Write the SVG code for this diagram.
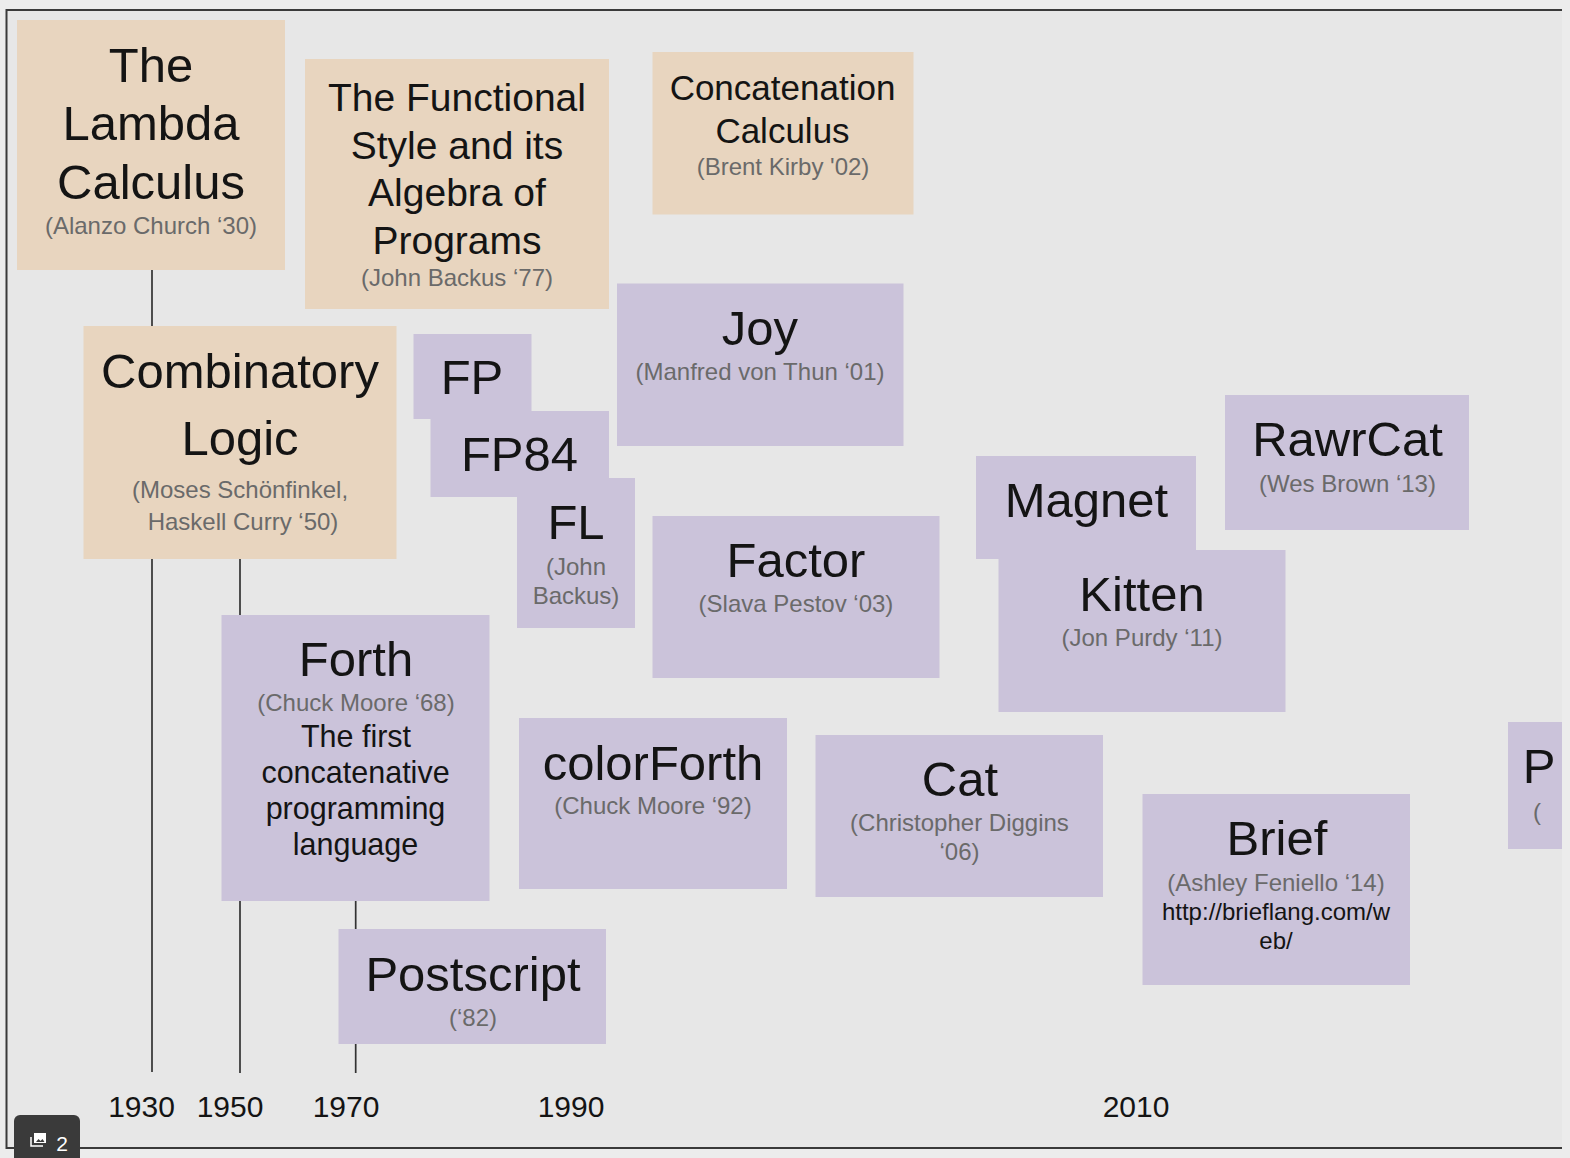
<svg xmlns="http://www.w3.org/2000/svg" width="1570" height="1158" viewBox="0 0 1570 1158">
<style>
text{font-family:"Liberation Sans",Arial,sans-serif;text-anchor:middle;fill:#141414}
.o{fill:#e8d5bf}.p{fill:#cbc3da}
.s{fill:#6a6a6a}
.c{stroke:#333;stroke-width:1.700;fill:none}
.y{font-size:30px}
</style>
<rect width="1570" height="1158" fill="#ececec"/>
<rect x="6.500" y="10" width="1555.500" height="1138" fill="#e7e7e7"/>
<path d="M1562 10H6.500V1148H1562" fill="none" stroke="#3a3a3a" stroke-width="2"/>
<g id="connectors">
<path class="c" d="M152 269V326M152 558V1072M240 558V615M240 900V1073M355.700 900V929M355.700 1043V1073"/>
</g>
<g id="lambda"><rect class="o" x="17" y="20" width="268" height="250"/><text x="151" y="81.500" font-size="49">The</text><text x="151" y="140" font-size="49">Lambda</text><text x="151" y="199" font-size="49">Calculus</text><text class="s" x="151" y="234" font-size="24">(Alanzo Church ‘30)</text></g>
<g id="functional"><rect class="o" x="305" y="59" width="304" height="250"/><text x="457" y="111" font-size="39">The Functional</text><text x="457" y="158.500" font-size="39">Style and its</text><text x="457" y="206" font-size="39">Algebra of</text><text x="457" y="253.500" font-size="39">Programs</text><text class="s" x="457" y="286" font-size="24">(John Backus ‘77)</text></g>
<g id="concatenation"><rect class="o" x="652.500" y="52" width="261" height="162.500"/><text x="782.500" y="100" font-size="35">Concatenation</text><text x="782.500" y="143" font-size="35">Calculus</text><text class="s" x="783" y="174.500" font-size="24">(Brent Kirby '02)</text></g>
<g id="combinatory"><rect class="o" x="83.500" y="326" width="313" height="233"/><text x="240" y="388" font-size="49">Combinatory</text><text x="240" y="454.500" font-size="49">Logic</text><text class="s" x="240" y="498" font-size="24">(Moses Schönfinkel,</text><text class="s" x="243" y="530" font-size="24">Haskell Curry ‘50)</text></g>
<g id="fp"><rect class="p" x="413.500" y="334" width="118" height="85"/><text x="472" y="394" font-size="49">FP</text></g>
<g id="fp84"><rect class="p" x="430.500" y="411" width="178.500" height="86"/><text x="519.500" y="471" font-size="49">FP84</text></g>
<g id="fl"><rect class="p" x="517" y="478" width="118" height="150"/><text x="576" y="539" font-size="49">FL</text><text class="s" x="576" y="575" font-size="24">(John</text><text class="s" x="576" y="604" font-size="24">Backus)</text></g>
<g id="joy"><rect class="p" x="617" y="283.500" width="286.500" height="162.500"/><text x="760" y="345" font-size="49">Joy</text><text class="s" x="760" y="380" font-size="24">(Manfred von Thun ‘01)</text></g>
<g id="factor"><rect class="p" x="652.500" y="516" width="287" height="162"/><text x="796" y="577" font-size="49">Factor</text><text class="s" x="796" y="612" font-size="24">(Slava Pestov ‘03)</text></g>
<g id="magnet"><rect class="p" x="976" y="456" width="220" height="103"/><text x="1086.500" y="517" font-size="49">Magnet</text></g>
<g id="kitten"><rect class="p" x="998.500" y="550" width="287" height="162"/><text x="1142" y="611" font-size="49">Kitten</text><text class="s" x="1142" y="646" font-size="24">(Jon Purdy ‘11)</text></g>
<g id="rawrcat"><rect class="p" x="1225" y="395" width="244" height="135"/><text x="1347.500" y="456" font-size="49">RawrCat</text><text class="s" x="1347.500" y="492" font-size="24">(Wes Brown ‘13)</text></g>
<g id="forth"><rect class="p" x="221.500" y="615" width="268" height="286"/><text x="356" y="676" font-size="49">Forth</text><text class="s" x="356" y="711" font-size="24">(Chuck Moore ‘68)</text><text x="356" y="747" font-size="30.500">The first</text><text x="355.500" y="783" font-size="30.500">concatenative</text><text x="355.500" y="819" font-size="30.500">programming</text><text x="355.500" y="855" font-size="30.500">language</text></g>
<g id="colorforth"><rect class="p" x="519" y="718" width="268" height="171"/><text x="653" y="780" font-size="49">colorForth</text><text class="s" x="653" y="814" font-size="24">(Chuck Moore ‘92)</text></g>
<g id="cat"><rect class="p" x="815.500" y="735" width="287.500" height="162"/><text x="960" y="796" font-size="49">Cat</text><text class="s" x="959.500" y="831" font-size="24">(Christopher Diggins</text><text class="s" x="959.500" y="860" font-size="24">‘06)</text></g>
<g id="brief"><rect class="p" x="1142.500" y="794" width="267.500" height="191"/><text x="1277" y="855" font-size="49">Brief</text><text class="s" x="1276" y="891" font-size="24">(Ashley Feniello ‘14)</text><text x="1276" y="920" font-size="24">http://brieflang.com/w</text><text x="1276" y="949" font-size="24">eb/</text></g>
<g id="postscript"><rect class="p" x="338.500" y="929" width="267.500" height="115"/><text x="473" y="990.500" font-size="49">Postscript</text><text class="s" x="473" y="1026" font-size="24">(‘82)</text></g>
<g id="p"><rect class="p" x="1508" y="722" width="54" height="127"/><text x="1539" y="783" font-size="49">P</text><text class="s" x="1537" y="820" font-size="24">(</text></g>
<g id="axis" class="y"><text x="141.500" y="1117">1930</text><text x="230" y="1117">1950</text><text x="346" y="1117">1970</text><text x="571" y="1117">1990</text><text x="1136" y="1117">2010</text></g>
<g id="badge"><rect x="14" y="1115" width="66" height="50" rx="6" fill="#3a3a3a"/><path d="M31 1137v9h12" fill="none" stroke="#fff" stroke-width="1.500"/><rect x="34" y="1133" width="12" height="10" fill="#fff"/><path d="M36 1142l2.500-3 2 2 2-2 2 3z" fill="#3a3a3a"/><text x="62" y="1151" font-size="21" style="fill:#fff">2</text></g>
</svg>
